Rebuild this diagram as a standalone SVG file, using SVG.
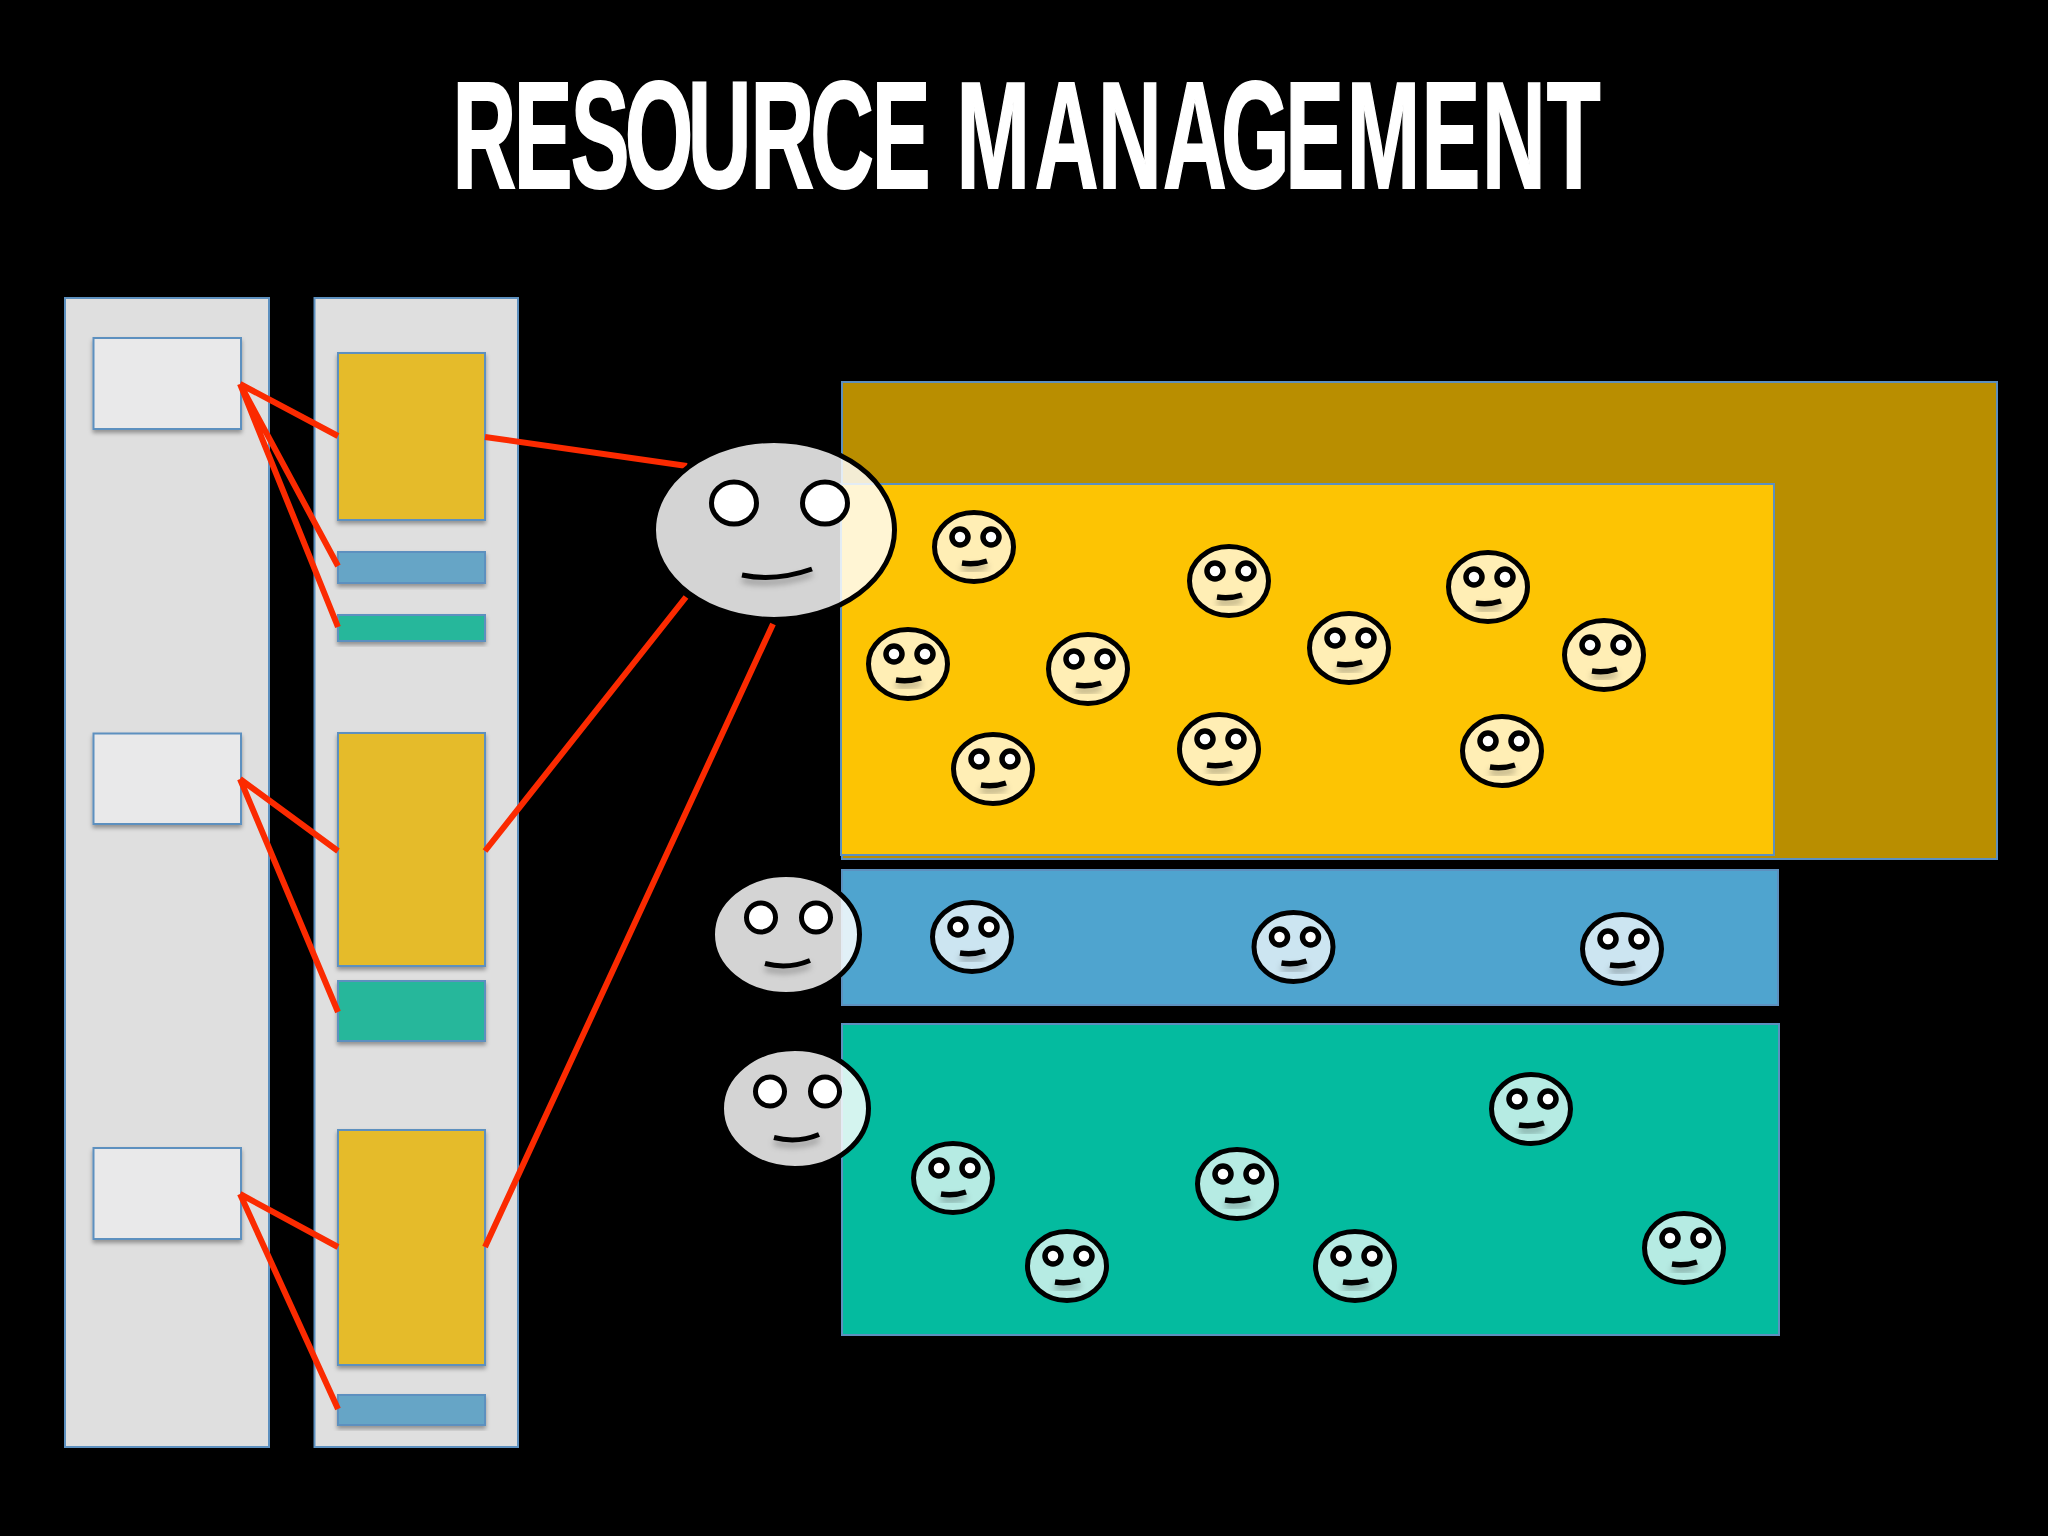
<svg xmlns="http://www.w3.org/2000/svg" width="2048" height="1536" viewBox="0 0 2048 1536">
<style>
.b{stroke:#5d90bf;stroke-width:2}
.col{fill:#dfdfdf}
.wh{fill:#e9e9ea;filter:url(#sh)}
.yl{fill:#e5bb2a;filter:url(#sh)}
.bl{fill:#66a5c6;filter:url(#sh)}
.gr{fill:#26b79b;filter:url(#sh)}
.red{stroke:#fb2a00;stroke-width:6;fill:none}
.head{fill:#fff;fill-opacity:.83;stroke:#000;stroke-width:5}
.shead{fill:#fff;fill-opacity:.71;stroke:#000;stroke-width:5}
.eye{fill:#fff;stroke:#000;stroke-width:5}
.seye{fill:#fff;stroke:#000;stroke-width:5.5}
.mouth{fill:none;stroke:#000;stroke-width:5;filter:url(#ms)}
.smouth{fill:none;stroke:#000;stroke-width:5.5;filter:url(#ms)}
text{font-family:"Liberation Sans",Arial,sans-serif;font-weight:700;fill:#fff;stroke:#fff;stroke-width:2}
</style>
<defs>
<filter id="sh" x="-10%" y="-10%" width="120%" height="130%"><feDropShadow dx="0" dy="3" stdDeviation="2" flood-color="#000" flood-opacity=".35"/></filter>
<filter id="ms" x="-30%" y="-100%" width="160%" height="500%"><feDropShadow dx="0" dy="5" stdDeviation="3" flood-color="#000" flood-opacity=".3"/></filter>
<g id="big"><ellipse class="head" rx="120.5" ry="89.5"/><ellipse class="eye" cx="-40" cy="-27" rx="22.5" ry="21"/><ellipse class="eye" cx="51" cy="-27" rx="22.5" ry="21"/><path class="mouth" d="M-32,45Q1,52 38,39"/></g>
<g id="mid"><ellipse class="head" rx="73.5" ry="60"/><circle class="eye" cx="-25" cy="-17" r="14.5"/><circle class="eye" cx="30" cy="-17" r="14.5"/><path class="mouth" d="M-21,29Q2,35 24,26"/></g>
<g id="sm"><ellipse class="shead" rx="39.5" ry="34.5"/><circle class="seye" cx="-14" cy="-10" r="8"/><circle class="seye" cx="17" cy="-10" r="8"/><path class="smouth" d="M-12,16Q1,18 13,14"/></g>
</defs>
<rect width="2048" height="1536" fill="#000"/>
<text id="title" transform="scale(.58,1)" y="188" font-size="152" x="780 886 984 1077 1186 1294 1397 1503 1600 1649 1784 1893 2005 2105 2216 2322 2451 2555 2667">RESOURCE MANAGEMENT</text>

<g id="column-a"><rect class="col b" x="65" y="298" width="204" height="1149"/></g>
<g id="column-b"><rect class="col b" x="314.500" y="298" width="203.500" height="1149"/></g>
<g id="box-a1"><rect class="wh b" x="93.500" y="338" width="147.500" height="91"/></g>
<g id="box-a2"><rect class="wh b" x="93.500" y="733.500" width="147.500" height="90.500"/></g>
<g id="box-a3"><rect class="wh b" x="93.500" y="1148" width="147.500" height="91"/></g>
<g id="box-y1"><rect class="yl b" x="338" y="353" width="147" height="167"/></g>
<g id="box-b1"><rect class="bl b" x="338" y="552" width="147" height="31"/></g>
<g id="box-g1"><rect class="gr b" x="338" y="615" width="147" height="26"/></g>
<g id="box-y2"><rect class="yl b" x="338" y="733" width="147" height="233"/></g>
<g id="box-g2"><rect class="gr b" x="338" y="981" width="147" height="60"/></g>
<g id="box-y3"><rect class="yl b" x="338" y="1130" width="147" height="235"/></g>
<g id="box-b3"><rect class="bl b" x="338" y="1395" width="147" height="30"/></g>

<g id="pool-outer"><rect class="b" x="842" y="382" width="1155" height="477" fill="#b98e00"/></g>
<g id="pool-yellow"><rect class="b" x="841" y="484" width="933" height="371" fill="#fdc403"/></g>
<g id="pool-blue"><rect class="b" x="842" y="870" width="936" height="135" fill="#4fa4cf"/></g>
<g id="pool-green"><rect class="b" x="842" y="1024" width="937" height="311" fill="#04bb9f"/></g>

<g id="connectors">
<path class="red" d="M240,384L338,436M240,384L338,566M240,384L338,627"/>
<path class="red" d="M240,779L338,851M240,779L338,1012"/>
<path class="red" d="M240,1194L338,1247M240,1194L338,1409"/>
<path class="red" d="M485,437L687,466M485,851L686,597M485,1247L773,624"/>
</g>

<g id="manager-1"><use href="#big" x="774" y="530"/></g>
<g id="manager-2"><use href="#mid" x="786" y="934.500"/></g>
<g id="manager-3"><use href="#mid" x="795" y="1108.500"/></g>

<g id="y1"><use href="#sm" x="974" y="547"/></g>
<g id="y2"><use href="#sm" x="1229" y="581"/></g>
<g id="y3"><use href="#sm" x="1488" y="587"/></g>
<g id="y4"><use href="#sm" x="908" y="664"/></g>
<g id="y5"><use href="#sm" x="1088" y="669"/></g>
<g id="y6"><use href="#sm" x="1349" y="648"/></g>
<g id="y7"><use href="#sm" x="1604" y="655"/></g>
<g id="y8"><use href="#sm" x="993" y="769"/></g>
<g id="y9"><use href="#sm" x="1219" y="749"/></g>
<g id="y10"><use href="#sm" x="1502" y="751"/></g>
<g id="b1"><use href="#sm" x="972" y="937"/></g>
<g id="b2"><use href="#sm" x="1293.500" y="947"/></g>
<g id="b3"><use href="#sm" x="1622" y="949"/></g>
<g id="g1"><use href="#sm" x="1531" y="1109"/></g>
<g id="g2"><use href="#sm" x="953" y="1178"/></g>
<g id="g3"><use href="#sm" x="1237" y="1184"/></g>
<g id="g4"><use href="#sm" x="1067" y="1266"/></g>
<g id="g5"><use href="#sm" x="1355" y="1266"/></g>
<g id="g6"><use href="#sm" x="1684" y="1248"/></g>
</svg>
